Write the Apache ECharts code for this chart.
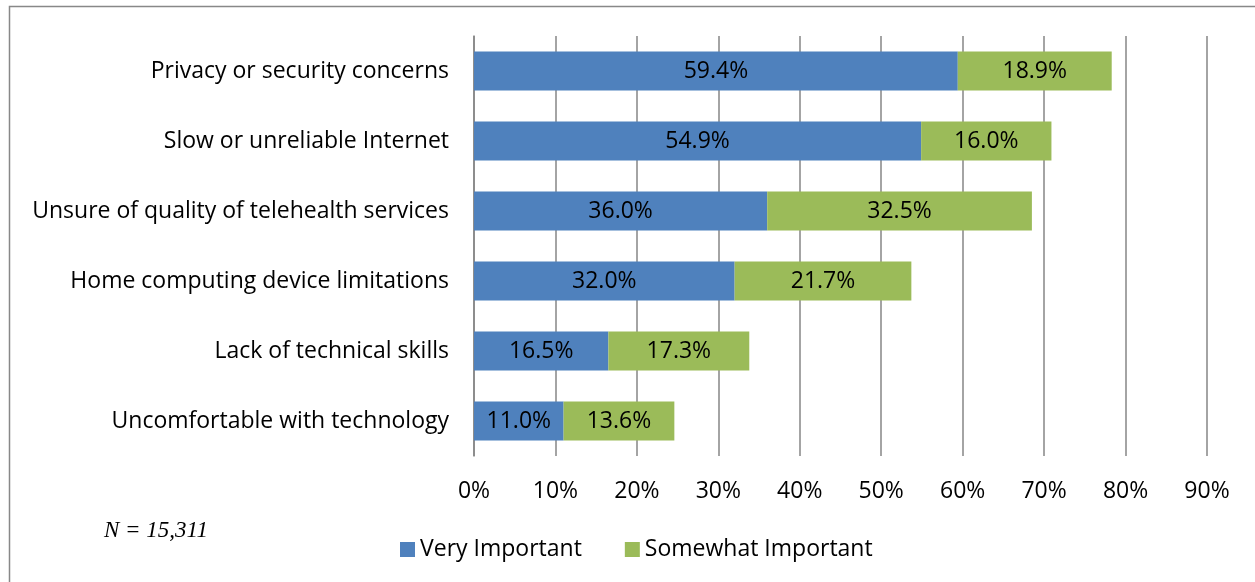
<!DOCTYPE html>
<html>
<head>
<meta charset="utf-8">
<script src="https://cdn.jsdelivr.net/npm/echarts@6/dist/echarts.min.js"></script>
<style>
html,body{margin:0;padding:0;background:#fff;}
#chart{width:1255px;height:582px;}
</style>
</head>
<body>
<div id="chart"></div>
<script>
const categories = [
  "Privacy or security concerns",
  "Slow or unreliable Internet",
  "Unsure of quality of telehealth services",
  "Home computing device limitations",
  "Lack of technical skills",
  "Uncomfortable with technology"
];
const veryImportant = [59.4, 54.9, 36.0, 32.0, 16.5, 11.0];
const somewhatImportant = [18.9, 16.0, 32.5, 21.7, 17.3, 13.6];
const seriesNames = ["Very Important", "Somewhat Important"];
const noteText = "N = 15,311";

const FONT = "Open Sans";
const FS = 23;
const chart = echarts.init(document.getElementById('chart'), null, {renderer: 'canvas'});
const labelStyle = {
  show: true,
  position: 'inside',
  color: '#000',
  fontFamily: FONT,
  fontSize: FS,
  formatter: p => p.value.toFixed(1) + '%'
};
chart.setOption({
  animation: false,
  backgroundColor: '#fff',
  grid: {left: 474, right: 48, top: 36, bottom: 126, containLabel: false},
  xAxis: {
    type: 'value',
    min: 0, max: 90, interval: 10,
    axisLabel: {formatter: '{value}%', color: '#000', fontFamily: FONT, fontSize: FS, margin: 24},
    axisLine: {show: false},
    axisTick: {show: false},
    splitLine: {show: true, lineStyle: {color: '#868686', width: 1.5}}
  },
  yAxis: {
    type: 'category',
    inverse: true,
    data: categories,
    axisLabel: {color: '#000', fontFamily: FONT, fontSize: FS, margin: 25},
    axisLine: {show: true, lineStyle: {color: '#868686', width: 1.5}},
    axisTick: {show: false}
  },
  legend: {
    data: seriesNames,
    top: 533,
    left: 395,
    itemWidth: 15, itemHeight: 15,
    itemGap: 43,
    icon: 'rect',
    textStyle: {color: '#000', fontFamily: FONT, fontSize: FS}
  },
  graphic: [
    {type: 'rect', shape: {x: 9.5, y: 6.5, width: 1270, height: 600},
     style: {fill: 'none', stroke: '#888', lineWidth: 1.5}, silent: true},
    {type: 'text', left: 104, top: 519,
     style: {text: noteText, fill: '#000', font: 'italic 23px "Liberation Serif", serif'}}
  ],
  series: [
    {name: seriesNames[0], type: 'bar', stack: 'total', data: veryImportant,
     barWidth: 39, itemStyle: {color: '#4F81BD'}, label: labelStyle},
    {name: seriesNames[1], type: 'bar', stack: 'total', data: somewhatImportant,
     barWidth: 39, itemStyle: {color: '#9BBB59'}, label: labelStyle}
  ]
});
</script>
</body>
</html>
